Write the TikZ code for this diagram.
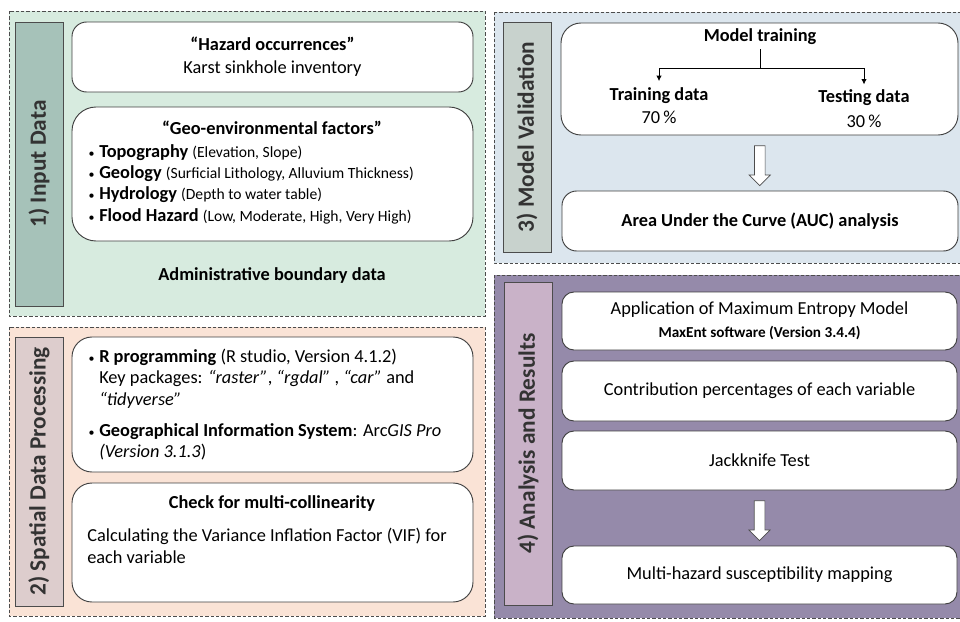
\documentclass[tikz,border=0pt]{standalone}
\usepackage{fontspec}
\setmainfont{Carlito}
\usepackage{tikz}
\usetikzlibrary{calc}
\usetikzlibrary{positioning}
\usetikzlibrary{shapes.arrows}
\usetikzlibrary{arrows.meta}

\definecolor{inputbg}{HTML}{D7EBDF}
\definecolor{inputbar}{HTML}{A6C2B9}
\definecolor{spatialbg}{HTML}{FAE3D6}
\definecolor{spatialbar}{HTML}{DDCDCD}
\definecolor{validbg}{HTML}{DCE6EE}
\definecolor{validbar}{HTML}{C8D2CD}
\definecolor{resultbg}{HTML}{958AAA}
\definecolor{resultbar}{HTML}{C9B2C8}

\newcommand{\bt}{\fontsize{13.75}{16}\selectfont\bfseries}
\newcommand{\sm}{\fontsize{11.7}{16}\selectfont}
\newcommand{\blt}{\llap{{\fontsize{9}{10}\selectfont•}\hspace{3.5pt}}}

\begin{document}
\begin{tikzpicture}[x=0.75pt,y=-0.75pt]
\tikzstyle{panel}=[draw=black!70, dash pattern=on 2.5pt off 1.5pt, line width=0.5pt]
\tikzstyle{stage}=[draw=black!70, line width=0.7pt, inner sep=0pt, rotate=90, 
text=black!80, font=\fontsize{17.5}{20}\selectfont\bfseries]
\tikzstyle{card}=[draw=black!75, fill=white, line width=0.7pt, align=center, 
font=\fontsize{13.75}{17}\selectfont]
\tikzstyle{txt}=[inner sep=0pt, font=\fontsize{13.75}{16}\selectfont]
\tikzstyle{hollow}=[draw=black!70, fill=white, line width=0.5pt, single arrow, 
rotate=-90, inner sep=3.75pt, single arrow head extend=4pt, single arrow tip 
angle=90, minimum height=30pt]
	\useasboundingbox (0,0) rectangle (960,621);
	
	% panels
	\draw [panel, fill=inputbg] (9,11) rectangle (485,316);
	\draw [panel, fill=spatialbg] (9,327) rectangle (485,616);
	\draw [panel, fill=validbg] (494,12) rectangle (962,263);
	\draw [panel, fill=resultbg] (494,275) rectangle (962,618);
	
	% stage labels
	\node [stage, fill=inputbar, minimum width=213pt, minimum height=36pt] (s1) 
	at (39,164) {1) Input Data};
	\node [stage, fill=spatialbar, minimum width=201.75pt, minimum height=36pt] 
	(s2) at (39,471.5) {2) Spatial Data Processing};
	\node [stage, fill=validbar, minimum width=172.5pt, minimum height=36pt] (s3) 
	at (527,137) {3) Model Validation};
	\node [stage, fill=resultbar, minimum width=242.25pt, minimum height=36pt] 
	(s4) at (528,443.5) {4) Analysis and Results};
	
	% 1) input data
	\node [card, rounded corners=11pt, minimum width=300.75pt, minimum 
	height=52.5pt] (haz) at (272.5,57) 
	{\textbf{“Hazard occurrences”}\\Karst sinkhole inventory};
	\node [card, rounded corners=18pt, minimum width=300.75pt, minimum 
	height=100.5pt] (geo) at (272.5,174) {};
	\node [txt, font=\bt] (geot) at (272,128) {“Geo-environmental factors”};
	\node [txt, align=left, anchor=west] (geol) at (99,184) 
	{\blt\textbf{Topography} {\sm(Elevation, Slope)}\\
	\blt\textbf{Geology} {\sm(Surficial Lithology, Alluvium Thickness)}\\
	\blt\textbf{Hydrology} {\sm(Depth to water table)}\\
	\blt\textbf{Flood Hazard} {\sm(Low, Moderate, High, Very High)}};
	\node [txt, font=\bt] (adm) at (272,275) {Administrative boundary data};
	
	% 2) spatial data processing
	\node [card, rounded corners=15pt, minimum width=300.75pt, minimum 
	height=101.25pt] (rp) at (272.5,404.5) {};
	\node [txt, align=left, anchor=west] (rpt) at (99,378.5) 
	{\blt\textbf{R programming} (R studio, Version 4.1.2)\\
	Key packages: \textit{“raster”}, \textit{“rgdal”} , \textit{“car”} and\\
	\textit{“tidyverse”}};
	\node [txt, align=left, anchor=west] (gis) at (99,442) 
	{\blt\textbf{Geographical Information System}: Arc\textit{GIS Pro}\\
	\textit{(Version 3.1.3})};
	\node [card, rounded corners=15pt, minimum width=300.75pt, minimum 
	height=89.25pt] (vif) at (272.5,542.5) {};
	\node [txt, font=\bt] (vift) at (272,503) {Check for multi-collinearity};
	\node [txt, align=left, anchor=west, font=\fontsize{13.75}{16.5}\selectfont] 
	(vifl) at (87,546) 
	{Calculating the Variance Inflation Factor (VIF) for\\each variable};
	
	% 3) model validation
	\node [card, rounded corners=15pt, minimum width=297.75pt, minimum 
	height=84pt] (mv) at (759.5,79) {};
	\node [txt, font=\bt] (mt) at (760,37) {Model training};
	\coordinate (split) at (760,68);
	\node [txt, font=\bt] (trn) at (659,96) {Training data};
	\node [txt] (p70) at (659,117) {70\,\%};
	\node [txt, font=\bt] (tst) at (864,98) {Testing data};
	\node [txt] (p30) at (864,121) {30\,\%};
	\draw [line width=0.6pt, shorten <=3pt] (mt) -- (split);
	\draw [line width=0.6pt, -{Latex[length=4pt,width=4pt]}, shorten >=5pt] 
	(split) -| (trn.north);
	\draw [line width=0.6pt, -{Latex[length=4pt,width=4pt]}, shorten >=4pt] 
	(split) -| (tst.north);
	\node [card, rounded corners=11pt, minimum width=297pt, minimum height=45pt, 
	font=\fontsize{13.75}{17}\selectfont\bfseries] (auc) at (760,221) 
	{Area Under the Curve (AUC) analysis};
	\node [hollow] (ar1) at ($(mv.south)!0.5!(auc.north)$) {};
	
	% 4) analysis and results
	\node [card, rounded corners=9pt, minimum width=296.25pt, minimum 
	height=43.5pt] (mx) at (759.5,321) {Application of Maximum Entropy Model\\
	{\fontsize{11.4}{13}\selectfont\bfseries MaxEnt software (Version 3.4.4)}};
	\node [card, rounded corners=9pt, minimum width=296.25pt, minimum 
	height=45pt] (cp) at (759.5,391) {Contribution percentages of each variable};
	\node [card, rounded corners=9pt, minimum width=296.25pt, minimum 
	height=44.25pt] (jk) at (759.5,460.5) {Jackknife Test};
	\node [card, rounded corners=9pt, minimum width=296.25pt, minimum 
	height=43.5pt] (ms) at (759.5,575) {Multi-hazard susceptibility mapping};
	\node [hollow] (ar2) at ($(jk.south)!0.5!(ms.north)$) {};
\end{tikzpicture}
\end{document}
